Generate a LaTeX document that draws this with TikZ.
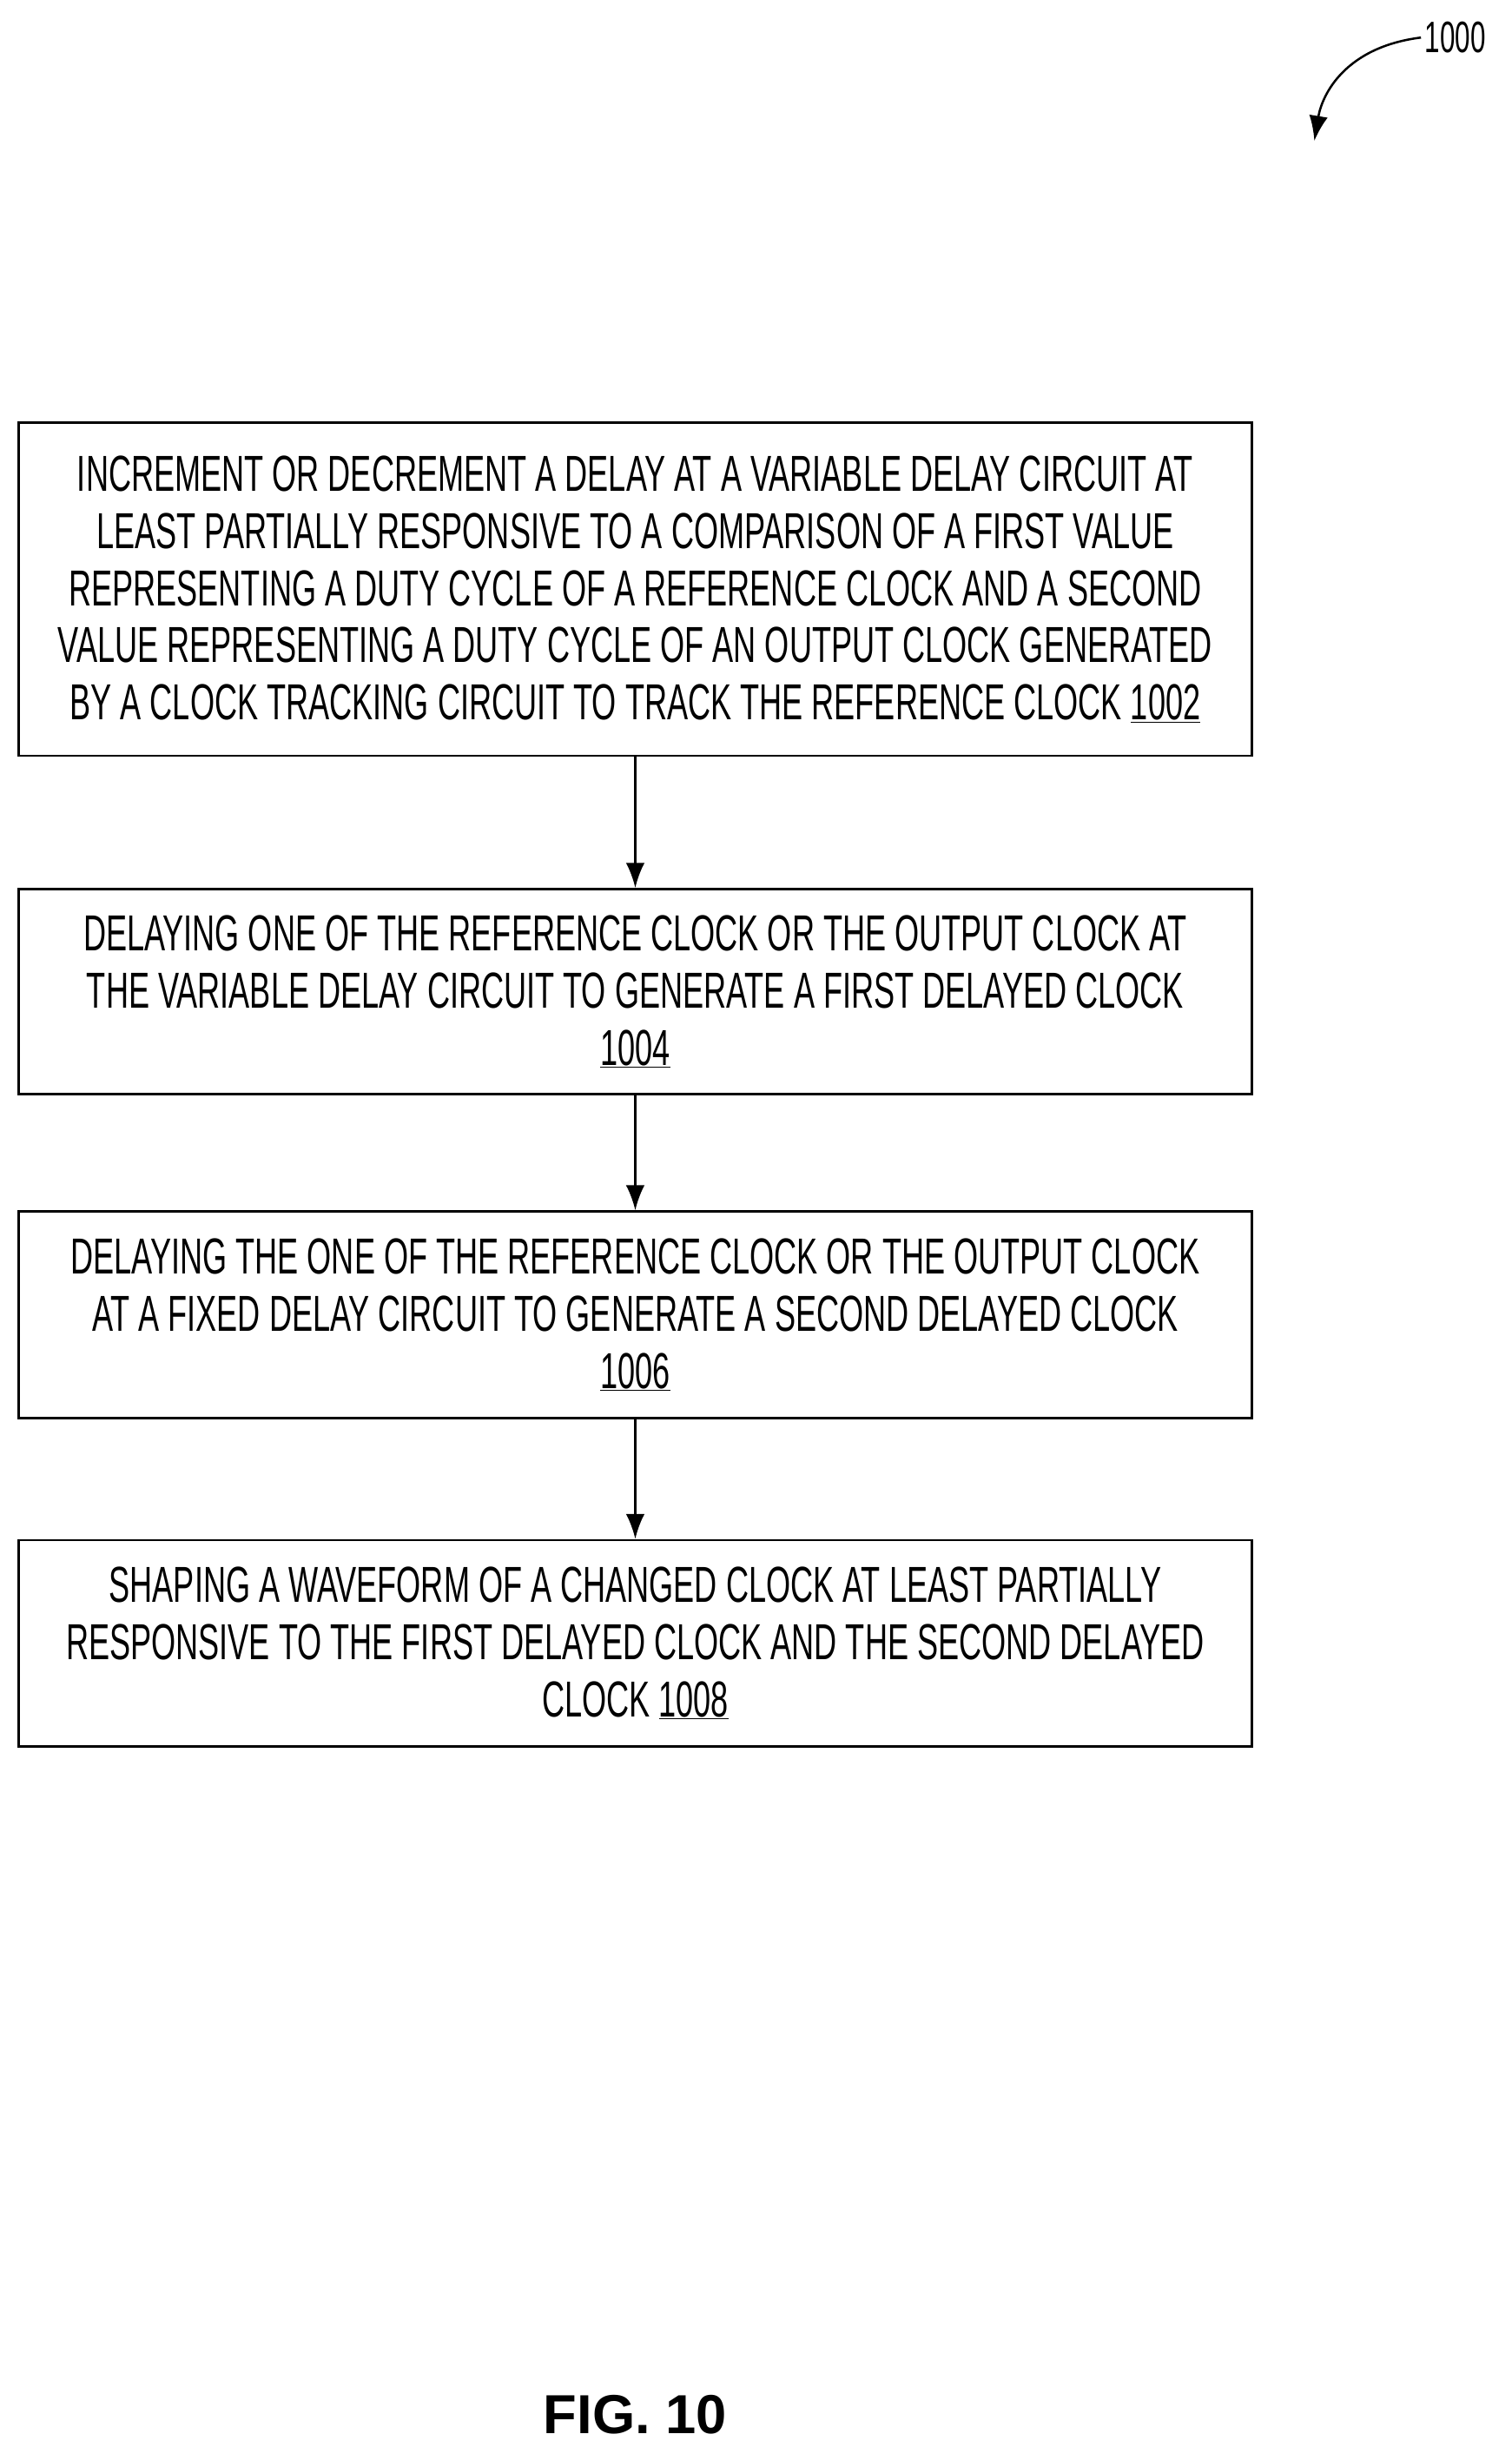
\documentclass[tikz,border=0pt]{standalone}
\usepackage{fontspec}
\setmainfont[FakeStretch=0.62]{Liberation Sans}
\newfontfamily\figfont{Liberation Sans}
\usetikzlibrary{arrows.meta, positioning}

\tikzset{
  stepbox/.style={draw, line width=2pt, minimum width=39.4cm, align=center,
    font=\fontsize{46}{52}\selectfont, inner sep=0pt},
  flow/.style={-{Latex[length=0.8cm,width=0.6cm]}, line width=2pt}
}

\begin{document}
\begin{tikzpicture}[x=0.05cm,y=-0.05cm]

% Page
\useasboundingbox (0,0) rectangle (966,1568);

% Steps
\node[stepbox, minimum height=10.65cm] (s1002) at (406,376.5) {INCREMENT OR DECREMENT A DELAY AT A VARIABLE DELAY CIRCUIT AT\\LEAST PARTIALLY RESPONSIVE TO A COMPARISON OF A FIRST VALUE\\REPRESENTING A DUTY CYCLE OF A REFERENCE CLOCK AND A SECOND\\VALUE REPRESENTING A DUTY CYCLE OF AN OUTPUT CLOCK GENERATED\\BY A CLOCK TRACKING CIRCUIT TO TRACK THE REFERENCE CLOCK \underline{1002}};
\node[stepbox, minimum height=6.55cm] (s1004) at (406,633.5) {DELAYING ONE OF THE REFERENCE CLOCK OR THE OUTPUT CLOCK AT\\THE VARIABLE DELAY CIRCUIT TO GENERATE A FIRST DELAYED CLOCK\\\underline{1004}};
\node[stepbox, minimum height=6.6cm] (s1006) at (406,840) {DELAYING THE ONE OF THE REFERENCE CLOCK OR THE OUTPUT CLOCK\\AT A FIXED DELAY CIRCUIT TO GENERATE A SECOND DELAYED CLOCK\\\underline{1006}};
\node[stepbox, minimum height=6.6cm] (s1008) at (406,1050) {SHAPING A WAVEFORM OF A CHANGED CLOCK AT LEAST PARTIALLY\\RESPONSIVE TO THE FIRST DELAYED CLOCK AND THE SECOND DELAYED\\CLOCK \underline{1008}};

% Connectors
\draw[flow] (s1002) -- (s1004);
\draw[flow] (s1004) -- (s1006);
\draw[flow] (s1006) -- (s1008);

% Reference label
\node[font=\fontsize{40}{44}\selectfont] (lbl) at (930,24) {1000};
\coordinate (tip) at (840,90);
\draw[flow] (lbl.west) .. controls (860,30) and (845,60) .. (tip);

% Caption
\node[font=\figfont\bfseries\fontsize{50}{56}\selectfont] (fig) at (406,1543) {FIG. 10};

\end{tikzpicture}
\end{document}
